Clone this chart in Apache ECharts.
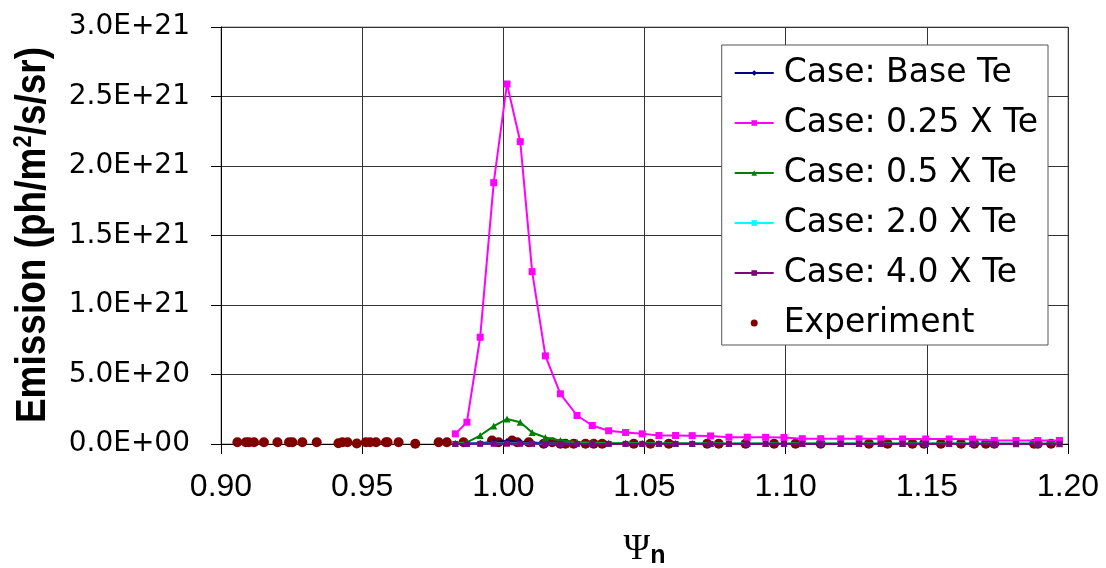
<!DOCTYPE html>
<html>
<head>
<meta charset="utf-8">
<script src="https://cdn.jsdelivr.net/npm/echarts@6/dist/echarts.min.js"></script>
<style>
  html, body { margin: 0; padding: 0; background: #fff; }
  #chart { width: 1106px; height: 568px; }
</style>
</head>
<body>
<div id="chart"></div>
<script>
// Normalised flux coordinate of the model grid points
const psiModel = [0.9830, 0.9871, 0.9918, 0.9966, 1.0013, 1.0060, 1.0102, 1.0149, 1.0202, 1.0261,
  1.0315, 1.0373, 1.0433, 1.0492, 1.0551, 1.0610, 1.0669, 1.0734, 1.0799, 1.0864,
  1.0929, 1.0994, 1.1059, 1.1124, 1.1195, 1.1260, 1.1337, 1.1414, 1.1496, 1.1579,
  1.1662, 1.1739, 1.1816, 1.1893, 1.1970];

// Modelled emission (ph/m^2/s/sr) for each electron-temperature case
const caseBase = [2e18, 3e18, 7e18, 1.4e19, 2.2e19, 1.7e19, 1.0e19, 6e18, 4e18, 3e18,
  3e18, 2.5e18, 2.5e18, 2.5e18, 2.5e18, 2.5e18, 2.5e18, 2.5e18, 2e18, 2e18,
  2e18, 2e18, 2e18, 2e18, 2e18, 2e18, 2e18, 2e18, 2e18, 2e18,
  2e18, 2e18, 2e18, 2e18, 2e18];
const caseQuarter = [7.3e19, 1.57e20, 7.68e20, 1.88e21, 2.59e21, 2.175e21, 1.24e21, 6.34e20, 3.61e20, 2.05e20,
  1.33e20, 9.5e19, 8.3e19, 7.3e19, 6.1e19, 6.1e19, 6.0e19, 5.8e19, 4.9e19, 4.9e19,
  4.8e19, 4.7e19, 3.8e19, 3.8e19, 3.7e19, 3.7e19, 3.7e19, 3.6e19, 3.6e19, 3.6e19,
  3.5e19, 2.6e19, 2.5e19, 2.5e19, 2.5e19];
const caseHalf = [5e18, 1.2e19, 6.1e19, 1.29e20, 1.8e20, 1.57e20, 8.3e19, 4.7e19, 2.5e19, 1.4e19,
  1.1e19, 8e18, 7e18, 6e18, 5e18, 5e18, 5e18, 4e18, 4e18, 4e18,
  4e18, 4e18, 3e18, 3e18, 3e18, 3e18, 3e18, 3e18, 3e18, 3e18,
  3e18, 2e18, 2e18, 2e18, 2e18];
const caseDouble = [1e18, 1e18, 2e18, 3e18, 4e18, 3e18, 2e18, 2e18, 1.5e18, 1.5e18,
  1e18, 1e18, 1e18, 1e18, 1e18, 1e18, 1e18, 1e18, 1e18, 1e18,
  1e18, 1e18, 1e18, 1e18, 1e18, 1e18, 1e18, 1e18, 1e18, 1e18,
  1e18, 1e18, 1e18, 1e18, 1e18];
const caseQuad = [5e17, 5e17, 1e18, 1.5e18, 2e18, 1.5e18, 1e18, 1e18, 8e17, 8e17,
  8e17, 8e17, 8e17, 8e17, 8e17, 8e17, 8e17, 8e17, 8e17, 8e17,
  8e17, 8e17, 8e17, 8e17, 8e17, 8e17, 8e17, 8e17, 8e17, 8e17,
  8e17, 8e17, 8e17, 8e17, 8e17];

// Measured emission
const expPsi = [0.9058, 0.9088, 0.9099, 0.9117, 0.9152, 0.9200, 0.9241, 0.9253, 0.9288, 0.9339,
  0.9416, 0.9430, 0.9448, 0.9481, 0.9513, 0.9528, 0.9549, 0.9584, 0.9590, 0.9629,
  0.9688, 0.9771, 0.9800, 0.9859, 0.9960, 0.9983, 1.0031, 1.0049, 1.0090, 1.0143,
  1.0173, 1.0202, 1.0220, 1.0249, 1.0291, 1.0320, 1.0350, 1.0462, 1.0521, 1.0586,
  1.0722, 1.0763, 1.0858, 1.0959, 1.1035, 1.1124, 1.1295, 1.1361, 1.1449, 1.1490,
  1.1550, 1.1621, 1.1668, 1.1709, 1.1739, 1.1880, 1.1893, 1.1940];
const expEmission = [1.3e19, 1.3e19, 1.3e19, 1.3e19, 1.3e19, 1.3e19, 1.3e19, 1.3e19, 1.3e19, 1.3e19,
  5e18, 1.3e19, 1.3e19, 3e18, 1.3e19, 1.3e19, 1.3e19, 1.2e19, 1.2e19, 1.2e19,
  2e18, 1.3e19, 1.3e19, 1.3e19, 2.5e19, 1.3e19, 2.5e19, 1.3e19, 1.3e19, 2e18,
  1.3e19, 2e18, 2e18, 2e18, 2e18, 2e18, 2e18, 2e18, 2e18, 2e18,
  2e18, 2e18, 2e18, 2e18, 2e18, 2e18, 2e18, 2e18, 2e18, 2e18,
  2e18, 2e18, 2e18, 2e18, 2e18, 2e18, 2e18, 2e18];

const seriesNames = ['Case: Base Te', 'Case: 0.25 X Te', 'Case: 0.5 X Te', 'Case: 2.0 X Te', 'Case: 4.0 X Te', 'Experiment'];

function pairs(xs, ys) { return xs.map((x, i) => [x, ys[i]]); }

function sciLabel(v) {
  if (v === 0) return '0.0E+00';
  const e = Math.floor(Math.log10(v) + 1e-9);
  const m = v / Math.pow(10, e);
  return m.toFixed(1) + 'E+' + String(e).padStart(2, '0');
}

function lineSeries(name, values, color, symbol, size) {
  return {
    name: name, type: 'line', data: pairs(psiModel, values),
    symbol: symbol, symbolSize: size, showAllSymbol: true,
    lineStyle: { color: color, width: 2 },
    itemStyle: { color: color, opacity: 1 },
    emphasis: { disabled: true }
  };
}

const chart = echarts.init(document.getElementById('chart'), null, { renderer: 'canvas' });
chart.setOption({
  animation: false,
  backgroundColor: '#ffffff',
  grid: {
    left: 221, right: 38, top: 27, bottom: 124,
    containLabel: false, outerBoundsMode: 'none',
    show: true, borderColor: '#888', borderWidth: 1
  },
  xAxis: {
    type: 'value', min: 0.9, max: 1.2, interval: 0.05,
    name: '{p|Ψ}{n|n}', nameLocation: 'middle', nameGap: 86,
    nameTextStyle: {
      rich: {
        p: { fontFamily: 'Liberation Serif', fontSize: 36, color: '#000' },
        n: { fontFamily: 'Liberation Sans', fontWeight: 'bold', fontSize: 25, color: '#000', padding: [14, 0, 0, 0] }
      }
    },
    axisLine: { show: true, lineStyle: { color: '#000', width: 1 } },
    axisTick: { show: true, inside: false, length: 10, lineStyle: { color: '#000' } },
    axisLabel: { margin: 27, fontFamily: 'Liberation Sans', fontSize: 32, color: '#000', formatter: v => v.toFixed(2) },
    splitLine: { show: true, lineStyle: { color: '#333', width: 1 } }
  },
  yAxis: {
    type: 'value', min: 0, max: 3e21, interval: 5e20,
    axisLine: { show: true, lineStyle: { color: '#000', width: 1 } },
    axisTick: { show: true, inside: false, length: 10, lineStyle: { color: '#000' } },
    axisLabel: { margin: 31, fontFamily: 'DejaVu Sans', fontSize: 28, color: '#000', formatter: sciLabel },
    splitLine: { show: true, lineStyle: { color: '#333', width: 1 } }
  },
  legend: {
    orient: 'vertical', right: 58, top: 45,
    backgroundColor: '#fff', borderColor: '#555', borderWidth: 1, borderRadius: 0,
    padding: [8, 10, 2, 12],
    itemWidth: 39, itemHeight: 7, itemGap: 10,
    textStyle: { fontFamily: 'DejaVu Sans', fontSize: 33, color: '#000', lineHeight: 40, padding: [0, 0, 0, 5] },
    data: seriesNames
  },
  graphic: [{
    type: 'text', x: 33, y: 235, rotation: Math.PI / 2, scaleY: 1.17,
    style: {
      text: '{a|Emission (ph/m}{s|2}{a|/s/sr)}',
      align: 'center', verticalAlign: 'middle', textAlign: 'center', textVerticalAlign: 'middle',
      fill: '#000',
      rich: {
        a: { fontSize: 37, fontWeight: 'bold', fontFamily: 'Liberation Sans', fill: '#000' },
        s: { fontSize: 22, fontWeight: 'bold', fontFamily: 'Liberation Sans', fill: '#000', verticalAlign: 'top' }
      }
    }
  }],
  series: [
    lineSeries(seriesNames[0], caseBase, '#000080', 'diamond', 6),
    lineSeries(seriesNames[1], caseQuarter, '#ff00ff', 'rect', 7),
    lineSeries(seriesNames[2], caseHalf, '#008000', 'triangle', 7),
    lineSeries(seriesNames[3], caseDouble, '#00ffff', 'rect', 5),
    lineSeries(seriesNames[4], caseQuad, '#800080', 'rect', 6),
    {
      name: seriesNames[5], type: 'scatter', data: pairs(expPsi, expEmission),
      symbol: 'circle', symbolSize: 10,
      itemStyle: { color: '#800000', opacity: 1 },
      emphasis: { disabled: true }
    }
  ]
});
</script>
</body>
</html>
